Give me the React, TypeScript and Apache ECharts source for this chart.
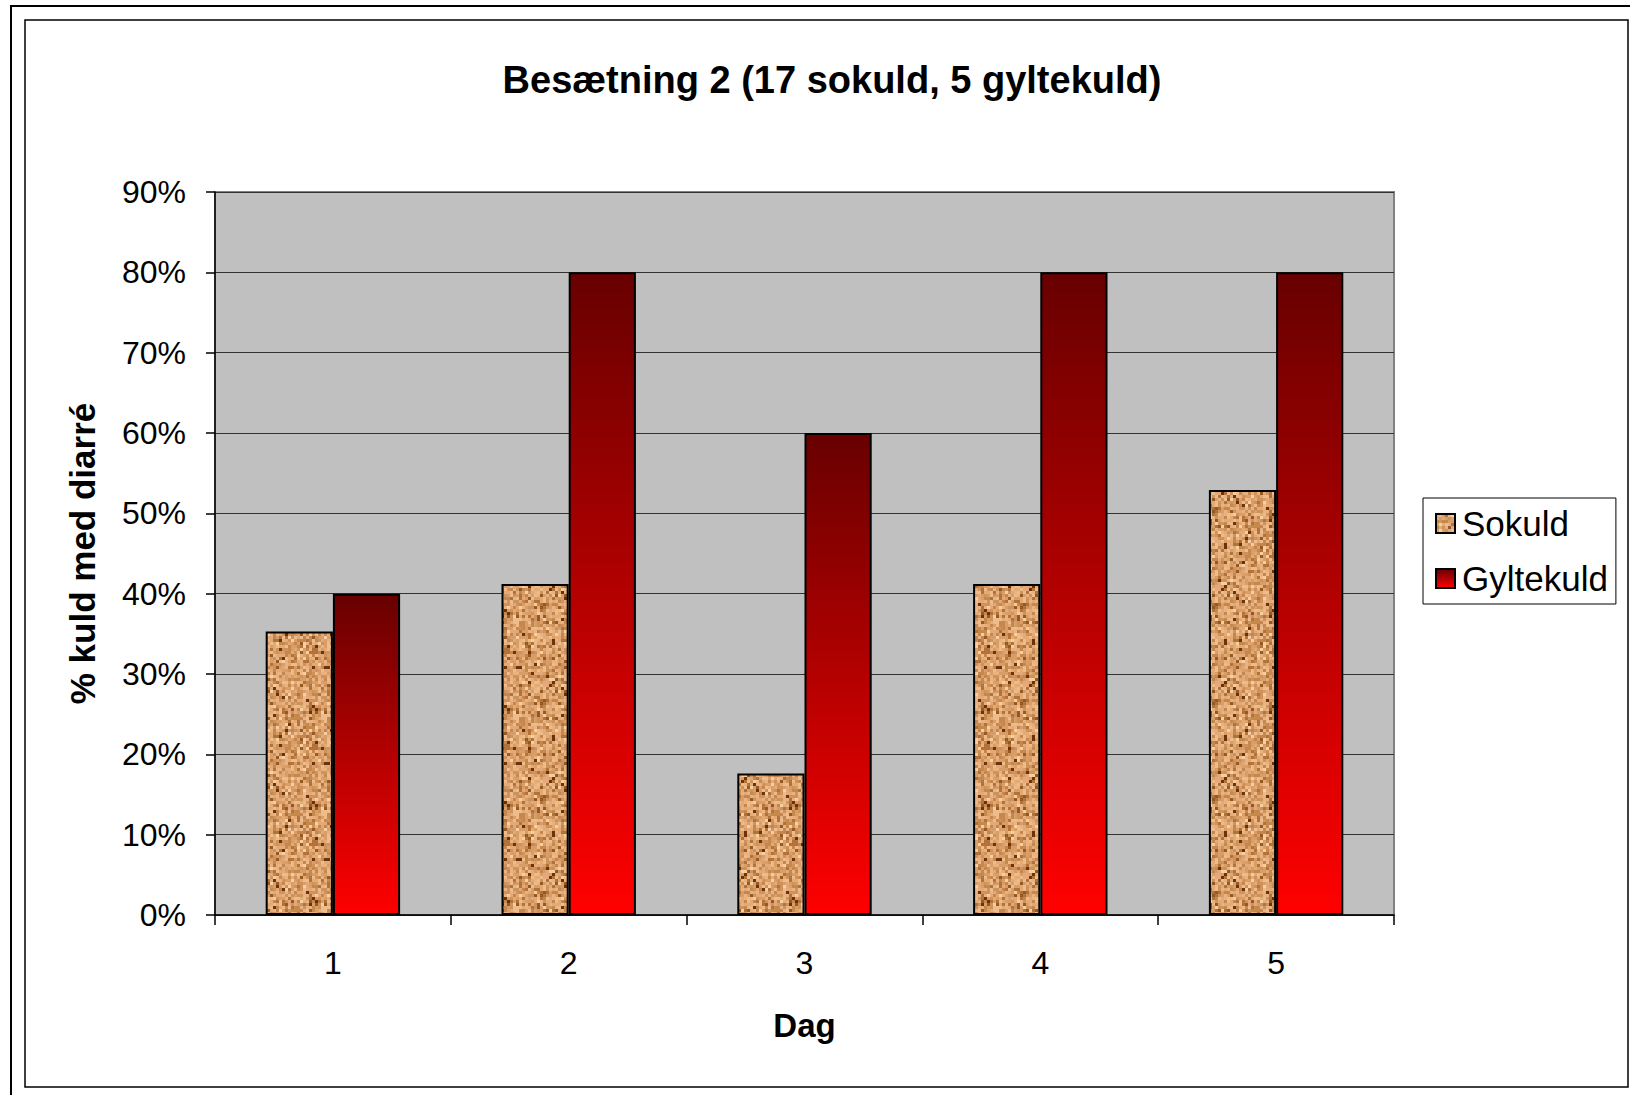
import React, { useEffect, useRef } from "react";
import * as echarts from "echarts";

const titleText = "Besætning 2 (17 sokuld, 5 gyltekuld)";
const days = ["1", "2", "3", "4", "5"];
const sokuld = [35.3, 41.2, 17.6, 41.2, 52.9];
const gyltekuld = [40, 80, 60, 80, 80];
const seriesNames = ["Sokuld", "Gyltekuld"];
const xName = "Dag";
const yName = "% kuld med diarré";

const FONT = "'Liberation Sans', Arial, sans-serif";

function makeTexture(): string {
  const size = 96;
  const cell = 3;
  const c = document.createElement("canvas");
  c.width = size;
  c.height = size;
  const ctx = c.getContext("2d");
  if (!ctx) return "";
  const palette = [
    "#E3AA78", "#D99E68", "#CE925C", "#EDBC8A", "#C4874E",
    "#E8B282", "#B27238", "#F6CEA0", "#955A24", "#6A330A",
  ];
  for (let y = 0; y < size / cell; y++) {
    for (let x = 0; x < size / cell; x++) {
      let h = (x * 374761393 + y * 668265263) | 0;
      h = Math.imul(h ^ (h >>> 13), 1274126177);
      h = h ^ (h >>> 16);
      const v = Math.abs(h) % 100;
      let idx: number;
      if (v < 16) idx = 0;
      else if (v < 32) idx = 1;
      else if (v < 46) idx = 2;
      else if (v < 58) idx = 3;
      else if (v < 70) idx = 4;
      else if (v < 80) idx = 5;
      else if (v < 88) idx = 6;
      else if (v < 93) idx = 7;
      else if (v < 97) idx = 8;
      else idx = 9;
      ctx.fillStyle = palette[idx];
      ctx.fillRect(x * cell, y * cell, cell, cell);
    }
  }
  return c.toDataURL();
}

export default function App() {
  const ref = useRef<HTMLDivElement>(null);
  useEffect(() => {
    if (!ref.current) return;
    const chart = echarts.init(ref.current, undefined, { renderer: "svg" });
    const tex = makeTexture();
    const redGrad = new echarts.graphic.LinearGradient(0, 0, 0, 1, [
      { offset: 0, color: "#680000" },
      { offset: 1, color: "#FF0000" },
    ]);
    chart.setOption({
      animation: false,
      backgroundColor: "#ffffff",
      textStyle: { fontFamily: FONT },
      title: {
        text: titleText,
        left: 827,
        top: 56,
        textAlign: "center",
        textStyle: { fontFamily: FONT, fontSize: 38, fontWeight: "bold", color: "#000" },
      },
      graphic: [
        {
          type: "rect",
          shape: { x: 11, y: 6, width: 1660, height: 1120 },
          style: { fill: "none", stroke: "#000", lineWidth: 2 },
          silent: true,
        },
        {
          type: "rect",
          shape: { x: 25, y: 20, width: 1603, height: 1067 },
          style: { fill: "none", stroke: "#000", lineWidth: 1.5 },
          silent: true,
        },
      ],
      legend: {
        orient: "vertical",
        left: 1423,
        top: 498,
        padding: [8, 8, 8, 12],
        itemGap: 20,
        itemWidth: 19,
        itemHeight: 19,
        icon: "rect",
        borderColor: "#000",
        borderWidth: 1,
        backgroundColor: "#fff",
        textStyle: { fontFamily: FONT, fontSize: 35, color: "#000", padding: [0, 0, 0, 2] },
        data: seriesNames,
      },
      grid: {
        left: 215,
        right: 236,
        top: 192,
        bottom: 180,
        show: true,
        backgroundColor: "#C0C0C0",
        borderColor: "#808080",
        borderWidth: 2,
      },
      xAxis: {
        type: "category",
        data: days,
        name: xName,
        nameLocation: "middle",
        nameGap: 94,
        nameTextStyle: { fontFamily: FONT, fontSize: 33, fontWeight: "bold", color: "#000" },
        axisLine: { lineStyle: { color: "#000", width: 1.5 } },
        axisTick: { show: true, length: 10, lineStyle: { color: "#000", width: 1.5 } },
        axisLabel: { fontFamily: FONT, fontSize: 32, color: "#000", margin: 32 },
      },
      yAxis: {
        type: "value",
        min: 0,
        max: 90,
        interval: 10,
        name: yName,
        nameLocation: "middle",
        nameGap: 115,
        nameTextStyle: { fontFamily: FONT, fontSize: 35, fontWeight: "bold", color: "#000" },
        axisLine: { show: true, lineStyle: { color: "#000", width: 1.5 } },
        axisTick: { show: true, length: 9, lineStyle: { color: "#000", width: 1.5 } },
        axisLabel: { fontFamily: FONT, fontSize: 32, color: "#000", margin: 29, formatter: "{value}%" },
        splitLine: { show: true, lineStyle: { color: "#333", width: 1 } },
      },
      series: [
        {
          name: seriesNames[0],
          type: "bar",
          data: sokuld,
          barGap: "0%",
          barCategoryGap: "43%",
          itemStyle: {
            color: { image: tex, repeat: "repeat" } as any,
            borderColor: "#000",
            borderWidth: 2,
          },
        },
        {
          name: seriesNames[1],
          type: "bar",
          data: gyltekuld,
          barGap: "0%",
          barCategoryGap: "43%",
          itemStyle: {
            color: redGrad,
            borderColor: "#000",
            borderWidth: 2,
          },
        },
      ],
    });
    return () => chart.dispose();
  }, []);
  return (
    <div
      ref={ref}
      style={{ position: "fixed", left: 0, top: 0, width: 1630, height: 1095 }}
    />
  );
}
